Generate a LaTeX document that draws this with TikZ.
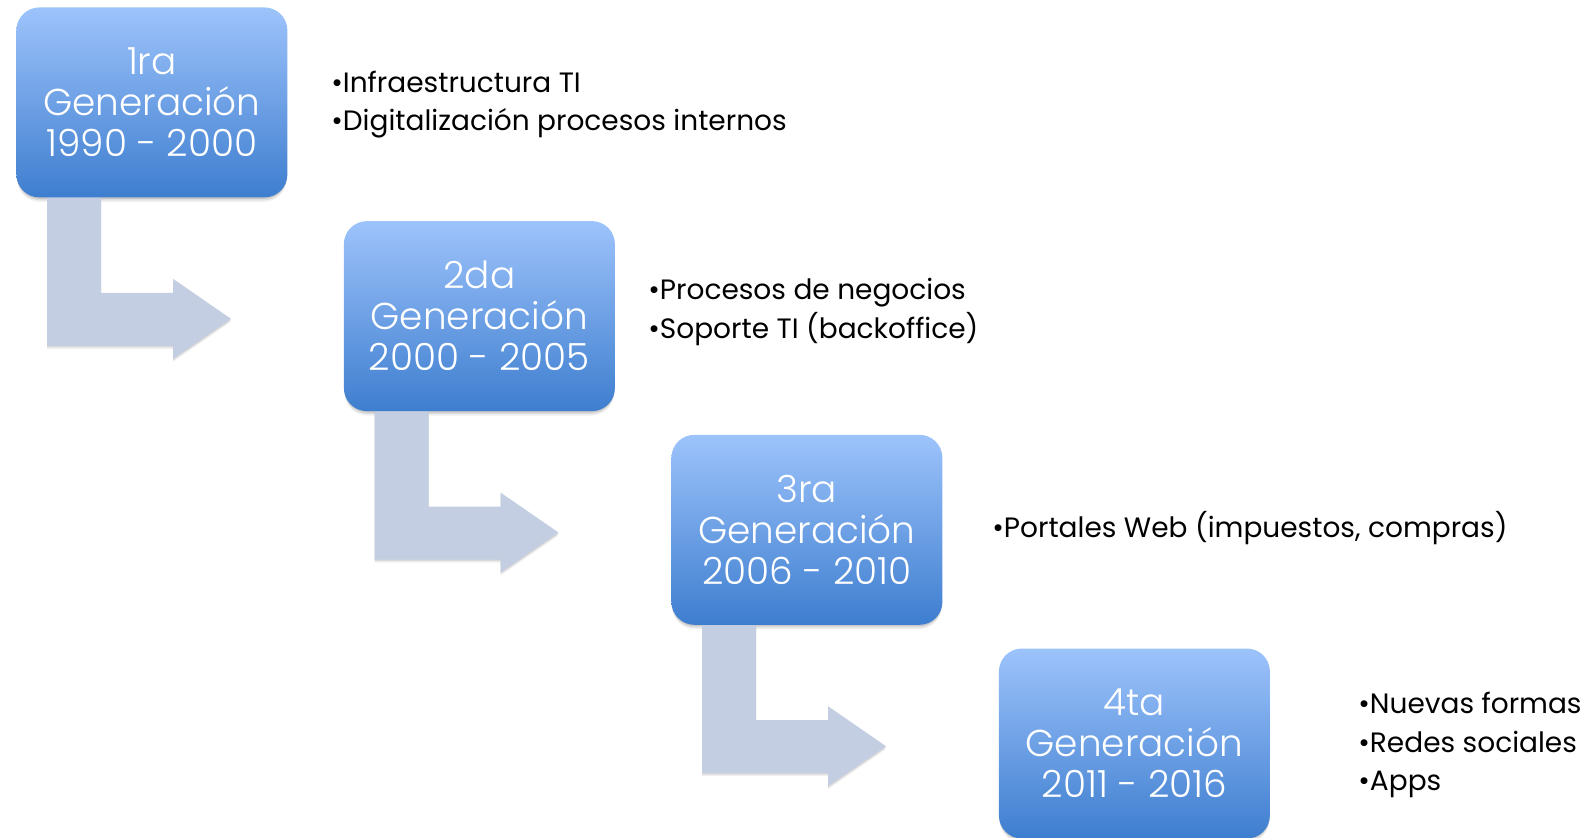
\documentclass[tikz,border=0pt]{standalone}
\usepackage{fontspec}
\setmainfont{Poppins}
\newfontfamily\boxfont{Poppins Light}
\pgfdeclarelayer{background}
\pgfdeclarelayer{shadow}
\pgfsetlayers{shadow,background,main}
\definecolor{boxtop}{HTML}{9DC3FB}
\definecolor{boxbot}{HTML}{3E7ECF}
\definecolor{arrowfill}{HTML}{C3CEE2}
\tikzset{
  genbox/.style={rectangle, rounded corners=11.5pt, minimum width=135.5pt, minimum height=95pt,
    anchor=north west, top color=boxtop, bottom color=boxbot, draw=none, text=white,
    align=center, font=\boxfont\fontsize{18.7pt}{20.5pt}\selectfont, inner sep=0pt},
  bullets/.style={anchor=west, align=left, inner sep=0pt, text=black,
    font=\fontsize{14pt}{19.3pt}\selectfont},
  bentarrow/.style={fill=arrowfill, draw=none},
  shadowfill/.style={fill=black, draw=none}
}
\newcommand\boxshadow[1]{%
  \begin{pgfonlayer}{shadow}
  \foreach \d/\o in {1/0.10,2.5/0.08,4/0.06}{
    \fill[shadowfill, opacity=\o, rounded corners=11.5pt]
      ([shift={(1,\d)}]#1.north west) rectangle ([shift={(-1,\d)}]#1.south east);}
  \end{pgfonlayer}}
\newcommand\genarrow[1]{%
  \begin{pgfonlayer}{shadow}
  \foreach \d/\o in {1.5/0.10,3/0.06}{
  \path[shadowfill, opacity=\o] ([shift={(31,-7+\d)}]#1.south west) -- ++(0,155) -- ++(126,0) -- ++(0,13)
    -- ++(58,-40) -- ++(-58,-40) -- ++(0,14) -- ++(-72,0) -- ++(0,-102) -- cycle;}
  \end{pgfonlayer}
  \begin{pgfonlayer}{background}
  \path[bentarrow] ([shift={(31,-7)}]#1.south west) -- ++(0,155) -- ++(126,0) -- ++(0,13)
    -- ++(58,-40) -- ++(-58,-40) -- ++(0,14) -- ++(-72,0) -- ++(0,-102) -- cycle;
  \end{pgfonlayer}}
\begin{document}
\begin{tikzpicture}[x=0.5pt,y=-0.5pt]
\useasboundingbox (0,0) rectangle (1594,837);
\node[genbox] (b1) at (16,7) {1ra\\Generación\\1990 - 2000};
\node[genbox] (b2) at (343.5,220.7) {2da\\Generación\\2000 - 2005};
\node[genbox] (b3) at (671,434.4) {3ra\\Generación\\2006 - 2010};
\node[genbox] (b4) at (998.5,648.1) {4ta\\Generación\\2011 - 2016};
\boxshadow{b1}
\boxshadow{b2}
\boxshadow{b3}
\boxshadow{b4}
\genarrow{b1}
\genarrow{b2}
\genarrow{b3}
\node[bullets] (t1) at (331,104.5) {•Infraestructura TI\\•Digitalización procesos internos};
\node[bullets] (t2) at (648,312) {•Procesos de negocios\\•Soporte TI (backoffice)};
\node[bullets] (t3) at (992,528) {•Portales Web (impuestos, compras)};
\node[bullets] (t4) at (1358,745) {•Nuevas formas\\•Redes sociales\\•Apps};
\end{tikzpicture}
\end{document}
